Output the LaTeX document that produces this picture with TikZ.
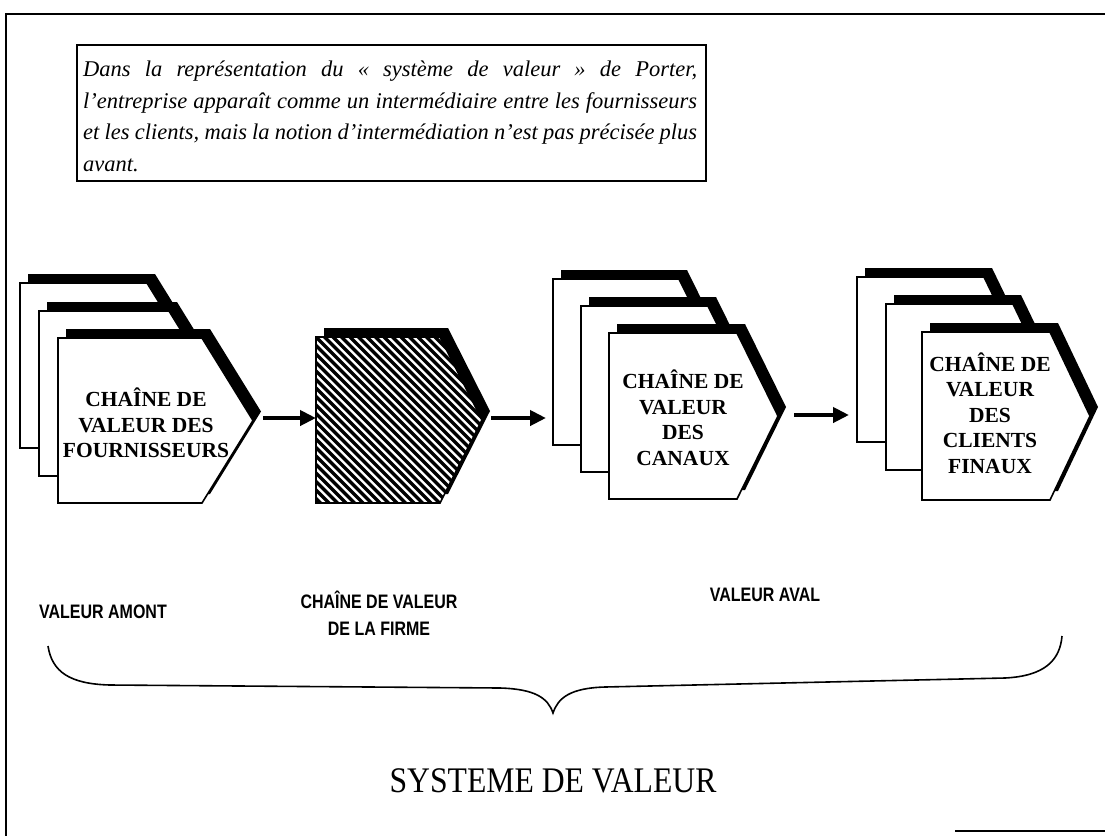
\documentclass[tikz,border=0pt]{standalone}
\usepackage{fontspec}
\setmainfont{Liberation Serif}
\newfontfamily\narrowsans[FakeStretch=0.82]{Liberation Sans}
\newfontfamily\narrowserif[FakeStretch=0.88]{Liberation Serif}
\usetikzlibrary{arrows.meta}
\tikzset{
  frameline/.style={line width=2pt},
  boxline/.style={line width=1.6pt},
  sheetline/.style={line width=1.6pt},
  flowarrow/.style={line width=4pt,-{Triangle[length=16pt,width=15pt]}},
  sheetlabel/.style={font=\fontsize{21.5}{25.5}\selectfont\bfseries, align=center, inner sep=0pt},
  partlabel/.style={font=\narrowsans\fontsize{19.5}{27}\selectfont\bfseries, align=center, inner sep=0pt},
}
\newcommand\jline[1]{\makebox[614pt][s]{#1}}
% left, top, width to tip, height, tip depth
\newcommand\vsheet[5]{%
  \fill[black] ({#1+8},{#2-9}) -- ({#1+#3-#5+8},{#2-9}) -- ({#1+#3+8},{#2+#4/2-9}) -- ({#1+#3-#5+8},{#2+#4-9}) -- ({#1+8},{#2+#4-9}) -- cycle;
  \draw[sheetline, fill=white] (#1,#2) -- ({#1+#3-#5},#2) -- ({#1+#3},{#2+#4/2}) -- ({#1+#3-#5},{#2+#4}) -- (#1,{#2+#4}) -- cycle;
}
\begin{document}
\begin{tikzpicture}[x=1pt,y=-1pt]
\useasboundingbox (0,0) rectangle (1105,836);
\fill[white] (0,0) rectangle (1105,836);
% outer frame
\draw[frameline] (1105,14) -- (6,14) -- (6,836);
\draw[frameline] (955,831) -- (1105,831);
% text box
\draw[boxline] (77,45) rectangle (706,181);
\node[anchor=north west, align=left, inner sep=0pt, font=\fontsize{22.5}{31.5}\selectfont\itshape] (intro) at (83,61)
  {\jline{Dans la représentation du « système de valeur » de Porter,}\\
   \jline{l’entreprise apparaît comme un intermédiaire entre les fournisseurs}\\
   \jline{et les clients, mais la notion d’intermédiation n’est pas précisée plus}\\
   avant.};
% stack 1 : fournisseurs
\vsheet{20}{283}{178}{165}{51}
\vsheet{39}{311}{181}{165}{51}
\vsheet{58}{338}{195}{165}{51}
\node[sheetlabel] (four) at (146,423) {CHAÎNE DE\\VALEUR DES\\FOURNISSEURS};
% firm (hatched)
\fill[black] (324,328) -- (448,328) -- (490,411) -- (448,494) -- (324,494) -- cycle;
\fill[white] (316,337) -- (440,337) -- (482,420) -- (440,503) -- (316,503) -- cycle;
\begin{scope}
  \clip (316,337) -- (440,337) -- (482,420) -- (440,503) -- (316,503) -- cycle;
  \foreach \k in {-22,...,22} {
    \draw[line width=3.3pt] ({316+\k*8.5-10},327) -- ({316+\k*8.5+190},527);
  }
\end{scope}
\draw[sheetline] (316,337) -- (440,337) -- (482,420) -- (440,503) -- (316,503) -- cycle;
% stack 3 : canaux
\vsheet{553}{279}{167}{166}{41}
\vsheet{581}{306}{168}{166}{41}
\vsheet{609}{333}{169}{166}{41}
\node[sheetlabel] (can) at (683,418) {CHAÎNE DE\\VALEUR\\DES\\CANAUX};
% stack 4 : clients finaux
\vsheet{857}{277}{167}{165}{40}
\vsheet{886}{304}{167}{166}{40}
\vsheet{922}{332}{168}{168}{40}
\node[sheetlabel] (cli) at (990,413) {CHAÎNE DE\\VALEUR\\DES\\CLIENTS\\FINAUX};
% arrows
\coordinate (fourtip) at (263,418);
\coordinate (firmin) at (316,418);
\coordinate (firmtip) at (491,418);
\coordinate (canin) at (546,418);
\coordinate (cantip) at (794,415);
\coordinate (cliin) at (849,415);
\draw[flowarrow] (fourtip) -- (firmin);
\draw[flowarrow] (firmtip) -- (canin);
\draw[flowarrow] (cantip) -- (cliin);
% labels
\node[partlabel] (amont) at (103,612) {VALEUR AMONT};
\node[partlabel] (firme) at (379,613) {CHAÎNE DE VALEUR\\DE LA FIRME};
\node[partlabel] (aval) at (765,595) {VALEUR AVAL};
% brace
\draw[line width=1.6pt] (48,646) .. controls (52,672) and (70,684) .. (110,685) -- (500,688)
  .. controls (535,689) and (548,698) .. (553,713)
  .. controls (558,698) and (570,688) .. (605,687) -- (1005,678)
  .. controls (1045,676) and (1060,660) .. (1062,636);
\node[font=\narrowserif\fontsize{36}{40}\selectfont, inner sep=0pt] (sys) at (553,781) {SYSTEME DE VALEUR};
\end{tikzpicture}
\end{document}
